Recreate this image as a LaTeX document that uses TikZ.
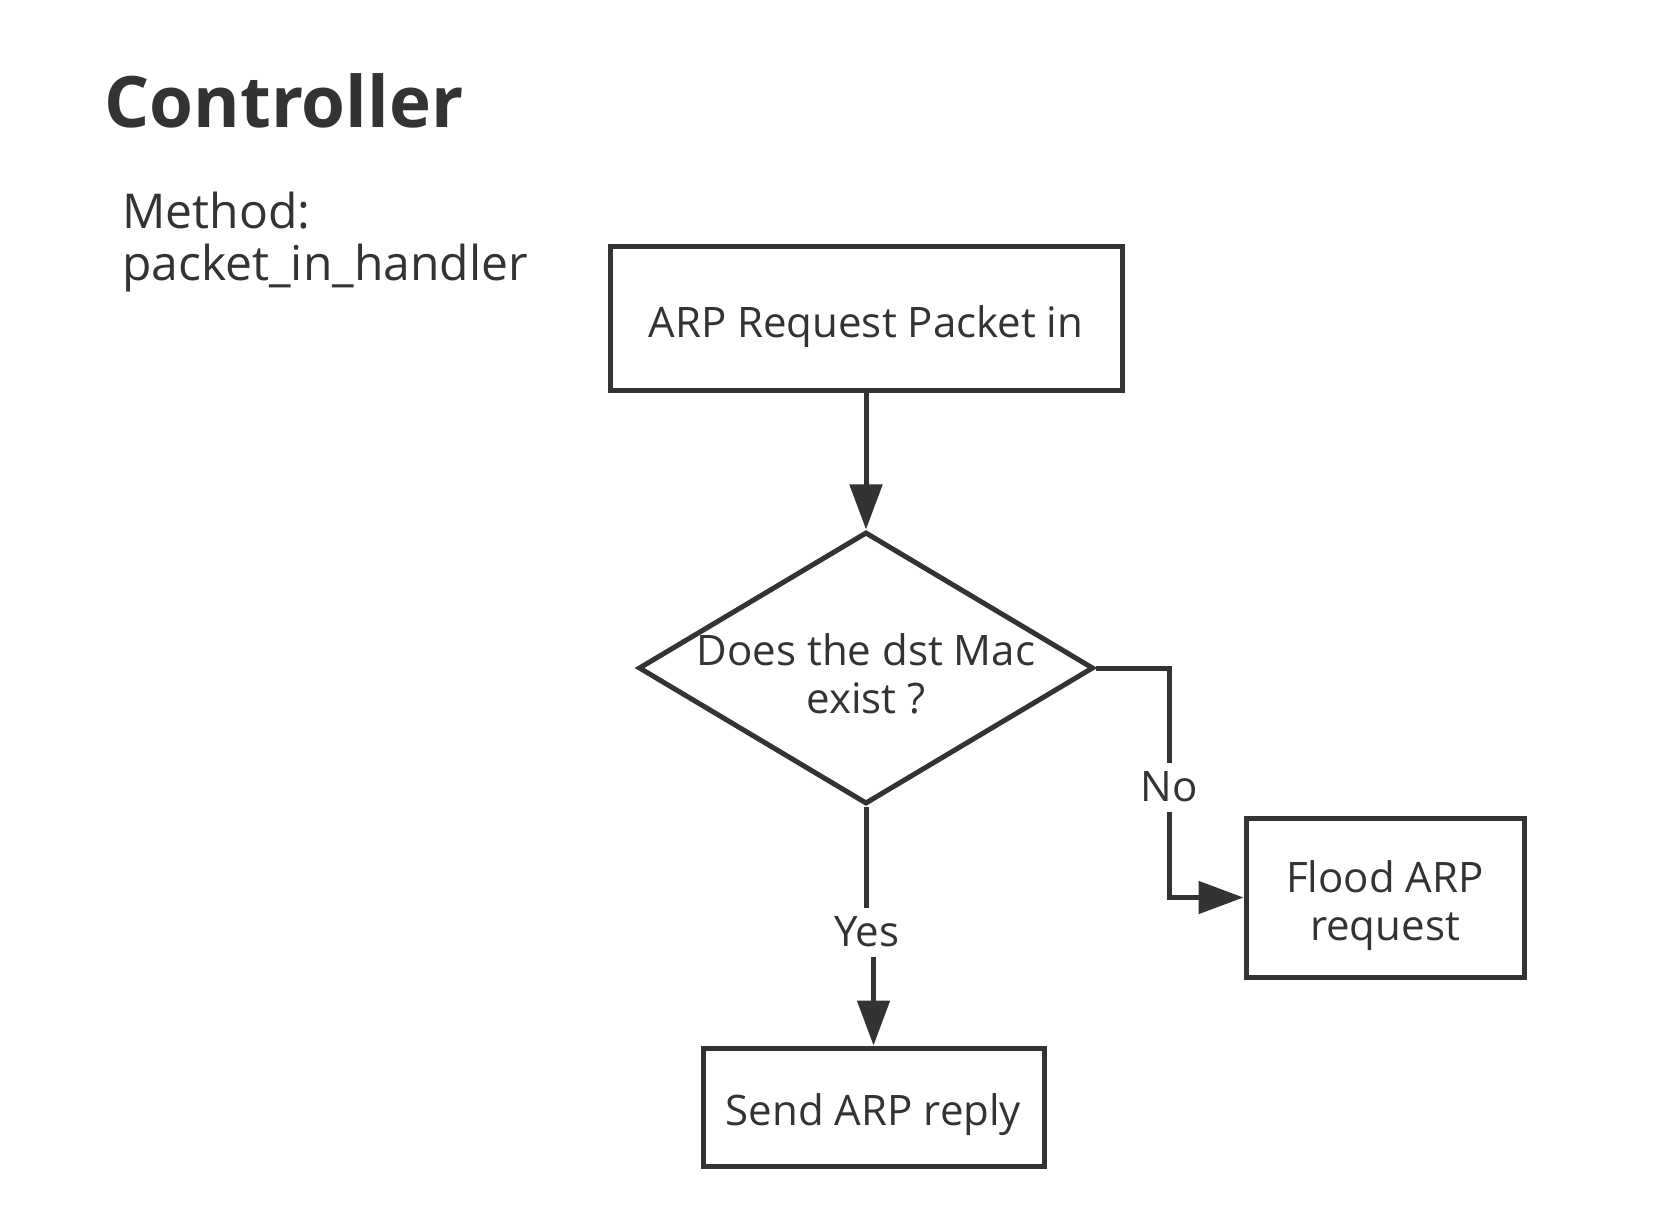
\documentclass[tikz,border=0pt]{standalone}
\usepackage{fontspec}
\setmainfont{Open Sans}
\usetikzlibrary{arrows.meta,shapes.geometric,backgrounds}
\definecolor{ink}{HTML}{333333}
\newcommand{\hstrut}{\rule{0pt}{24pt}}
\begin{document}
\begin{tikzpicture}[x=0.5pt,y=-0.5pt,
  box/.style={draw=ink, line width=2.5pt, rectangle, inner sep=0pt, text=ink, align=center, font=\fontsize{21}{24}\selectfont},
  decision/.style={diamond, draw=ink, line width=2.5pt, inner sep=0pt},
  txt/.style={text=ink, inner sep=0pt, align=center, font=\fontsize{21}{24}\selectfont},
  lbl/.style={fill=white, text=ink, inner sep=0pt, minimum height=24.5pt, font=\fontsize{21}{24}\selectfont},
  ln/.style={draw=ink, line width=2.5pt},
  conn/.style={draw=ink, line width=2.5pt, -{Triangle[length=22.5pt,width=16pt]}}
]
\useasboundingbox (0,0) rectangle (1668,1218);

\node[anchor=base west, text=ink, inner sep=0pt, font=\fontsize{35.5}{42}\selectfont\bfseries] (title) at (104,128) {Controller};
\node[anchor=base west, align=left, text=ink, inner sep=0pt, font=\fontsize{24}{26}\selectfont] (method) at (122,281) {Method:\\packet\_in\_handler};

\node[box, minimum width=256pt, minimum height=72pt] (b1) at (866,319) {\hstrut ARP Request Packet in};
\node[decision, minimum width=227.5pt, minimum height=136pt] (dia) at (866,668) {};
\node[txt] (dtext) at (866,674) {Does the dst Mac\\exist ?};
\node[box, minimum width=139pt, minimum height=79.5pt] (flood) at (1385,897.5) {\hstrut Flood ARP\\request};
\node[box, minimum width=170.5pt, minimum height=59pt] (send) at (873.5,1107) {\hstrut Send ARP reply};

\node[lbl] (yes) at (867,932) {Yes};
\node[lbl] (no) at (1169,787) {No};

\begin{pgfonlayer}{background}
\fill[white] (0,0) rectangle (1668,1218);
\draw[conn] (b1.south) -- (dia.north);
\draw[ln] (dia.south) -- (dia.south |- yes.center) -- (send.north |- yes.center);
\draw[conn] (send.north |- yes.center) -- (send.north);
\draw[ln] (dia.east) -| (no.center);
\draw[conn] (no.center) |- (flood.west);
\end{pgfonlayer}
\end{tikzpicture}
\end{document}
